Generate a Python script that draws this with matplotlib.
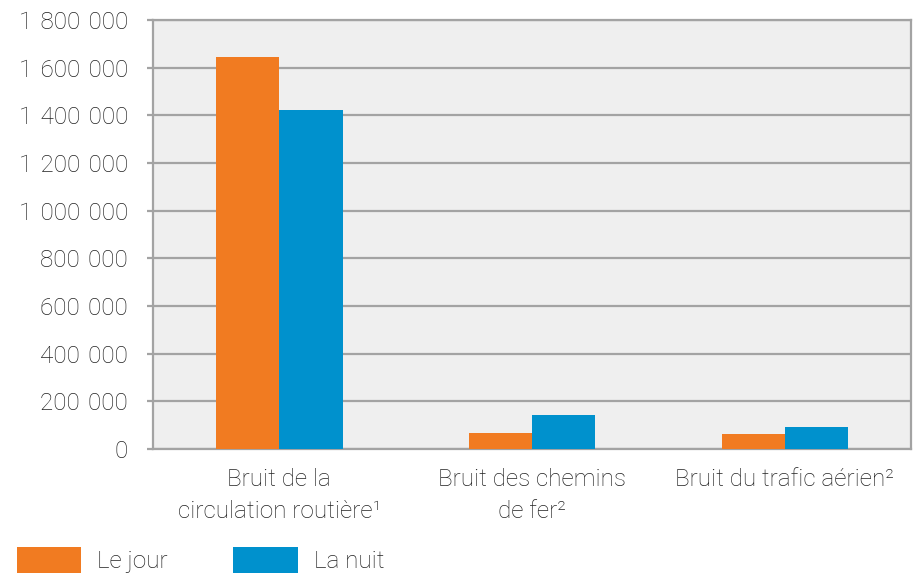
import matplotlib
matplotlib.use('Agg')
import matplotlib.pyplot as plt
from matplotlib.ticker import FuncFormatter, MultipleLocator
import numpy as np

plt.rcParams['font.family'] = ['Roboto', 'DejaVu Sans']
plt.rcParams['font.weight'] = 'light'

categories = ['Bruit de la\ncirculation routière¹', 'Bruit des chemins\nde fer²', 'Bruit du trafic aérien²']
jour = [1645000, 67000, 63000]
nuit = [1422000, 143000, 92000]
series_names = ['Le jour', 'La nuit']

c_jour = '#F17B21'
c_nuit = '#0091CD'
grey = '#a3a3a3'
txt = '#222222'
fs = 17.5

fig = plt.figure(figsize=(9.19, 5.74), dpi=100)
ax = fig.add_axes([0.1665, 0.2178, 0.8248, 0.7474])
ax.set_facecolor('#efefef')

x = np.arange(len(categories))
w = 0.25
ax.bar(x - w / 2, jour, w, color=c_jour, label=series_names[0], zorder=3)
ax.bar(x + w / 2, nuit, w, color=c_nuit, label=series_names[1], zorder=3)

ax.set_xlim(-0.5, 2.5)
ax.set_ylim(0, 1800000)
ax.yaxis.set_major_locator(MultipleLocator(200000))
ax.yaxis.set_major_formatter(FuncFormatter(lambda v, p: '{:,}'.format(int(v)).replace(',', '\u2004')))
ax.grid(axis='y', color=grey, linewidth=1.6, zorder=1)
ax.set_axisbelow(True)
for s in ax.spines.values():
    s.set_color(grey)
    s.set_linewidth(1.6)

ax.set_xticks(x)
ax.set_xticklabels(categories, fontsize=fs, color=txt, linespacing=1.45)
ax.tick_params(axis='x', length=0, pad=14)
ax.tick_params(axis='y', length=4, width=1.6, color=grey, pad=14, labelsize=fs, labelcolor=txt)

fig.legend(loc='upper left', bbox_to_anchor=(0.0185, 0.047), ncol=2, frameon=False,
           fontsize=fs, handlelength=2.65, handleheight=1.25, handletextpad=0.65,
           columnspacing=2.7, borderpad=0, borderaxespad=0, labelcolor=txt)

fig.savefig('out.png', dpi=100)
